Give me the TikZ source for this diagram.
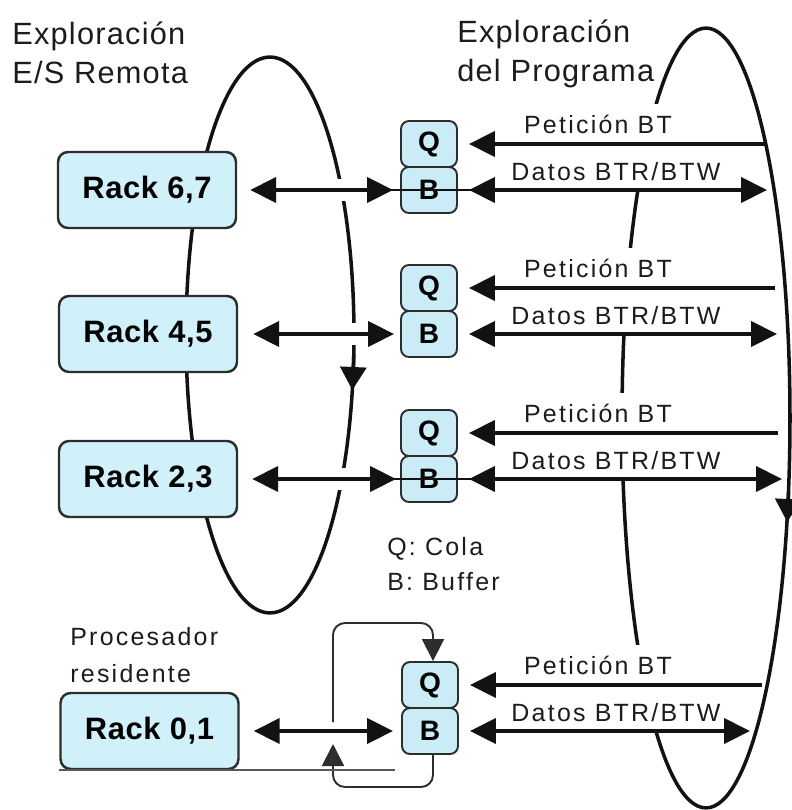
\documentclass[tikz,border=0pt]{standalone}
\usepackage{fontspec}
\setmainfont{Liberation Sans}
\newfontfamily\titlefont[LetterSpace=4]{Liberation Sans}
\newfontfamily\lblfont[LetterSpace=9]{Liberation Sans}
\newfontfamily\boxfont[LetterSpace=2]{Liberation Sans}
\usetikzlibrary{arrows.meta}

\definecolor{inkc}{RGB}{18,18,18}
\definecolor{textc}{RGB}{28,28,28}
\definecolor{rackblue}{RGB}{208,240,250}
\definecolor{qbblue}{RGB}{202,236,247}
\definecolor{edgec}{RGB}{45,45,45}

\begin{document}
\begin{tikzpicture}[x=0.02cm, y=-0.02cm,
  >={Triangle[length=0.52cm,width=0.5cm]},
  ring/.style={line width=2pt, draw=inkc},
  ringtip/.style={line width=2pt, draw=inkc, fill=inkc,
    -{Triangle[length=0.46cm,width=0.52cm]}},
  halo/.style={draw=white, line width=0.44cm},
  rackbox/.style={draw=edgec, line width=1.4pt, fill=rackblue,
    rounded corners=0.2cm, minimum width=3.56cm, minimum height=1.52cm,
    inner sep=0, text=black, font=\boxfont\bfseries\fontsize{17.6}{20}\selectfont},
  qbbox/.style={draw=edgec, line width=1.1pt, fill=qbblue,
    rounded corners=0.16cm, minimum width=1.12cm, minimum height=0.92cm,
    inner sep=0, text=black, font=\boxfont\bfseries\fontsize{16}{18}\selectfont},
  lbl/.style={fill=white, inner sep=0, text=textc,
    font=\lblfont\fontsize{14.2}{16}\selectfont},
  petlbl/.style={lbl, anchor=south, text height=0.6cm, text depth=0.2cm},
  datlbl/.style={lbl, anchor=south, text height=0.76cm, text depth=0.18cm},
  title/.style={inner sep=0, anchor=base west, text=textc,
    font=\titlefont\fontsize{17.5}{21}\selectfont},
  note/.style={inner sep=0, anchor=base west, text=textc,
    font=\lblfont\fontsize{14.2}{16}\selectfont},
  flow/.style={line width=2.3pt, draw=inkc},
  thru/.style={line width=1.1pt, draw=inkc},
  loopline/.style={line width=1.1pt, draw=edgec, rounded corners=0.24cm},
  looptip/.style={-{Triangle[length=0.44cm,width=0.44cm]}},
  ground/.style={line width=1.1pt, draw=black!65}]

\useasboundingbox (0,0) rectangle (791,810);

% scan loops
\draw[ring] (270,335) ellipse [x radius=1.68cm, y radius=5.56cm];
\draw[ring] (706,418) ellipse [x radius=1.68cm, y radius=7.8cm];
\draw[ringtip] (353.8,356) -- (352.3,390);
\draw[ringtip] (788.6,492) -- (787.2,522);

% rack positions
\coordinate (r67c) at (147,190);
\coordinate (r45c) at (148,334);
\coordinate (r23c) at (148,479);
\coordinate (r01c) at (149.5,731);

% gaps in the I/O scan loop where the rack links cross it
\draw[halo] (r67c) -- (429,190);
\draw[halo] (r45c) -- (429,334);
\draw[halo] (r23c) -- (429,479);

% labels of the program-scan links
\node[petlbl] (p1) at (598,144) {Petición BT};
\node[datlbl] (d1) at (616,190) {Datos BTR/BTW};
\node[petlbl] (p2) at (598,288) {Petición BT};
\node[datlbl] (d2) at (616,334) {Datos BTR/BTW};
\node[petlbl] (p3) at (598,433) {Petición BT};
\node[datlbl] (d3) at (616,479) {Datos BTR/BTW};
\node[petlbl] (p4) at (598,685) {Petición BT};
\node[datlbl] (d4) at (616,731) {Datos BTR/BTW};

% racks
\node[rackbox] (r67) at (r67c) {Rack 6,7};
\node[rackbox] (r45) at (r45c) {Rack 4,5};
\node[rackbox] (r23) at (r23c) {Rack 2,3};
\node[rackbox] (r01) at (r01c) {Rack 0,1};

% queue / buffer pairs
\node[qbbox] (q1) at (429,144) {Q};
\node[qbbox] (b1) at (429,190) {B};
\node[qbbox] (q2) at (429,288) {Q};
\node[qbbox] (b2) at (429,334) {B};
\node[qbbox] (q3) at (429,433) {Q};
\node[qbbox] (b3) at (429,479) {B};
\node[qbbox] (q4) at (430,685) {Q};
\node[qbbox] (b4) at (430,731) {B};

% data line running across the buffer
\draw[thru] ([xshift=-0.22cm]b1.west) -- ([xshift=0.26cm]b1.east);
\draw[thru] ([xshift=-0.22cm]b3.west) -- ([xshift=0.26cm]b3.east);

% rack <-> buffer links
\draw[flow, <->, shorten <=0.26cm, shorten >=0.14cm] (r67) -- (b1);
\draw[flow, <->, shorten <=0.3cm, shorten >=0.12cm] (r45) -- (b2);
\draw[flow, <->, shorten <=0.28cm, shorten >=0.08cm] (r23) -- (b3);
\draw[flow, <->, shorten <=0.28cm, shorten >=0.16cm] (r01) -- (b4);

% program-scan ends of the request and data links
\coordinate (pr1) at (765,144);
\coordinate (dr1) at (767,190);
\coordinate (pr2) at (775,288);
\coordinate (dr2) at (777,334);
\coordinate (pr3) at (778,433);
\coordinate (dr3) at (782,479);
\coordinate (pr4) at (762,685);
\coordinate (dr4) at (750,731);

\draw[flow, ->, shorten >=0.22cm] (pr1) -- (q1.east);
\draw[flow, <->, shorten <=0.22cm] (b1.east) -- (dr1);
\draw[flow, ->, shorten >=0.22cm] (pr2) -- (q2.east);
\draw[flow, <->, shorten <=0.22cm] (b2.east) -- (dr2);
\draw[flow, ->, shorten >=0.22cm] (pr3) -- (q3.east);
\draw[flow, <->, shorten <=0.22cm] (b3.east) -- (dr3);
\draw[flow, ->, shorten >=0.22cm] (pr4) -- (q4.east);
\draw[flow, <->, shorten <=0.22cm] (b4.east) -- (dr4);

% resident processor: buffer back to queue
\coordinate (lpa) at (333,744);
\coordinate (lpb) at (333,722);
\coordinate (lpc) at (433,623);
\coordinate (lpd) at (333,787);
\draw[loopline, looptip] (b4.south -| lpc) |- (lpd) -- (lpa);
\draw[loopline, looptip] (lpb) |- (lpc) -- (q4.north -| lpc);
\coordinate (gnd) at (395,770);
\draw[ground] (r01.south west) -- (r01.south west -| gnd);

% titles and notes
\node[title] (t1a) at (12,45) {Exploración};
\node[title] (t1b) at (12,84) {E/S Remota};
\node[title] (t2a) at (457,43) {Exploración};
\node[title] (t2b) at (457,82) {del Programa};
\node[note] (n1) at (387,555) {Q: Cola};
\node[note] (n2) at (387,590) {B: Buffer};
\node[note] (n3) at (70,645) {Procesador};
\node[note] (n4) at (70,682) {residente};
\end{tikzpicture}
\end{document}
